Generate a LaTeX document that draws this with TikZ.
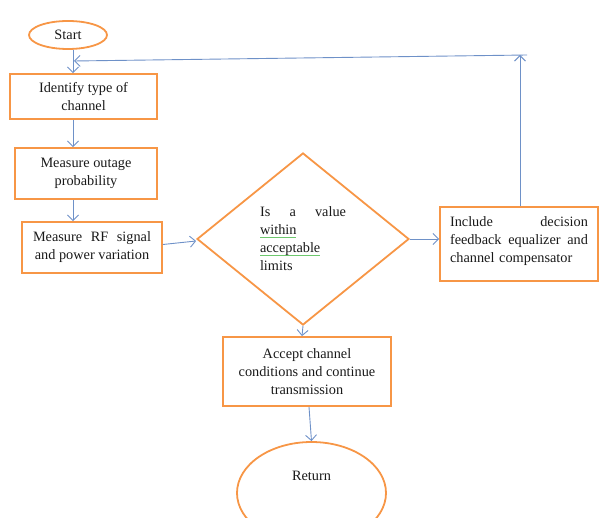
\documentclass[tikz,border=0pt]{standalone}
\usepackage{fontspec}
\setmainfont{Liberation Serif}
\usetikzlibrary{shapes.geometric,arrows.meta}
\definecolor{boxorange}{RGB}{247,150,70}
\definecolor{lineblue}{RGB}{110,145,200}
\definecolor{squiggle}{RGB}{110,200,110}
\newsavebox{\spellbox}
\newcommand{\spell}[1]{\leavevmode\sbox{\spellbox}{#1}\rlap{\raisebox{-4pt}{\color{squiggle}\leaders\hbox to 2pt{\hss\rule{1.1pt}{1pt}\hss}\hskip\wd\spellbox}}\usebox{\spellbox}}
\tikzset{
  every node/.style={font=\fontsize{14.3}{18}\selectfont, text=black!90},
  procbox/.style={draw=boxorange, line width=1.8pt, rectangle, align=center, inner sep=2pt},
  termnode/.style={draw=boxorange, line width=1.8pt, ellipse, inner sep=0pt},
  decnode/.style={draw=boxorange, line width=1.8pt, diamond, inner sep=0pt},
  conn/.style={draw=lineblue, line width=0.9pt, -{Straight Barb[length=5.5pt,width=11pt]}}
}
\begin{document}
\begin{tikzpicture}[x=1pt,y=-1pt]
\useasboundingbox (0,0) rectangle (603,518);
\node[termnode, minimum width=78pt, minimum height=28pt] (start) at (68,35) {Start};
\node[procbox, minimum width=147pt, minimum height=45pt] (b1) at (83.5,96.5) {Identify type of\\channel};
\node[procbox, minimum width=142pt, minimum height=51pt] (b2) at (86,173.5) {Measure outage\\probability};
\node[procbox, minimum width=140pt, minimum height=51pt] (b3) at (92,247.5) {\makebox[118pt]{Measure\hfill RF\hfill signal}\\and power variation};
\node[decnode, minimum width=212pt, minimum height=172pt] (d) at (303,239) {};
\node[align=left, text width=86pt, inner sep=0pt] (dt) at (303,238.5) {\makebox[86pt]{Is\hfill a\hfill value}\\\spell{within}\\\spell{acceptable}\\limits};
\node[procbox, minimum width=158pt, minimum height=74pt] (b4) at (519,244) {};
\node[align=left, text width=138pt, inner sep=0pt] (b4t) at (519,241) {\makebox[138pt]{Include\hfill decision}\\\makebox[138pt]{feedback\hfill equalizer\hfill and}\\channel compensator};
\node[procbox, minimum width=168pt, minimum height=69pt] (b5) at (307,371.5) {Accept channel\\conditions and continue\\transmission};
\node[termnode, minimum width=149pt, minimum height=102pt] (ret) at (311.5,493) {};
\node[inner sep=0pt] (rett) at (311.5,476) {Return};
\coordinate (col) at (73,0);
\coordinate (fb) at (74,61);
\coordinate (top) at (520,55);
\coordinate (topr) at (527,55);
\draw[conn] (start.south -| col) -- (b1.north -| col);
\draw[conn] (b1.south -| col) -- (b2.north -| col);
\draw[conn] (b2.south -| col) -- (b3.north -| col);
\draw[conn] ([yshift=3pt]b3.east) -- ([yshift=-2pt]d.west);
\draw[conn] (d.east) -- (d.east -| b4.west);
\draw[conn] (b4.north -| top) -- (top);
\draw[conn] (topr) -- (fb);
\draw[conn] (d.south) -- ([xshift=-1pt]d.south |- b5.north);
\draw[conn] ([xshift=2pt]b5.south) -- (ret.north);
\end{tikzpicture}
\end{document}
